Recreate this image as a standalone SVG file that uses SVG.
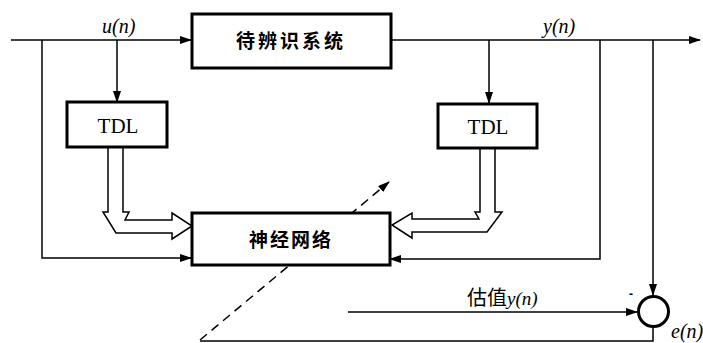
<svg xmlns="http://www.w3.org/2000/svg" width="703" height="343" viewBox="0 0 703 343">
<defs>
<marker id="ah" markerWidth="12" markerHeight="8" refX="11" refY="4" orient="auto" markerUnits="userSpaceOnUse">
<path d="M0,0 L12,4 L0,8 Z" fill="#000"/>
</marker>
<style>
.box{fill:#fff;stroke:#000;stroke-width:3}
.ln{fill:none;stroke:#000;stroke-width:1.5}
.hollow{fill:#fff;stroke:#000;stroke-width:1.5;stroke-linejoin:miter}
.cn{font-family:"Noto Sans CJK SC","Noto Sans CJK JP",sans-serif;font-weight:bold;font-size:19px;fill:#000}
.tdl{font-family:"Liberation Serif","DejaVu Serif",serif;font-size:21px;fill:#000}
.it{font-family:"Liberation Serif","DejaVu Serif",serif;font-style:italic;font-size:20px;fill:#000}
</style>
</defs>
<rect width="703" height="343" fill="#fff"/>
<g id="connectors">
<line class="ln" x1="11" y1="40" x2="191" y2="40" marker-end="url(#ah)"/>
<line class="ln" x1="391" y1="40" x2="700" y2="40" marker-end="url(#ah)"/>
<line class="ln" x1="117" y1="40" x2="117" y2="102" marker-end="url(#ah)"/>
<line class="ln" x1="489" y1="40" x2="489" y2="103" marker-end="url(#ah)"/>
<polyline class="ln" points="42,40 42,258 191,258" marker-end="url(#ah)"/>
<polyline class="ln" points="600,40 600,259 390,259" marker-end="url(#ah)"/>
<line class="ln" x1="653" y1="40" x2="653" y2="295" marker-end="url(#ah)"/>
<line class="ln" x1="348" y1="312" x2="637" y2="312" marker-end="url(#ah)"/>
<polyline class="ln" points="653,327 653,341 200,341"/>
<line class="ln" x1="200" y1="340" x2="389" y2="182" stroke-dasharray="9,6" marker-end="url(#ah)"/>
<polygon class="hollow" points="108,147 108,212 103,212 116,233 172,233 172,239 192,226 172,213 172,220 125,220 129,212 123,212 123,147"/>
<polygon class="hollow" points="495,148 495,212 502,212 487,232 412,232 412,238 392,225 412,213 412,219 479,219 475,212 480,212 480,148"/>
</g>
<g id="plant">
<rect class="box" x="192" y="14" width="199" height="54"/>
<text class="cn" x="291" y="48" text-anchor="middle" letter-spacing="3">待辨识系统</text>
</g>
<g id="tdl1">
<rect class="box" x="67" y="102" width="100" height="45"/>
<text class="tdl" x="118" y="133" text-anchor="middle">TDL</text>
</g>
<g id="tdl2">
<rect class="box" x="438" y="104" width="99" height="44"/>
<text class="tdl" x="488" y="134" text-anchor="middle">TDL</text>
</g>
<g id="nn">
<rect class="box" x="192" y="213" width="198" height="52"/>
<text class="cn" x="291" y="247" text-anchor="middle" letter-spacing="2">神经网络</text>
</g>
<g id="sum">
<circle cx="653.5" cy="311.5" r="15" fill="#fff" stroke="#000" stroke-width="3"/>
<text x="629" y="298" font-family="Liberation Sans,sans-serif" font-size="12" font-weight="bold">-</text>
</g>
<g id="labels">
<text class="it" x="102" y="33">u(n)</text>
<text class="it" x="543" y="33">y(n)</text>
<text x="467" y="305" font-family="'Noto Sans CJK SC',sans-serif" font-size="20" fill="#000">估值<tspan font-family="'Liberation Serif',serif" font-style="italic" font-size="19">y(n)</tspan></text>
<text class="it" x="671" y="338">e(n)</text>
</g>
</svg>
